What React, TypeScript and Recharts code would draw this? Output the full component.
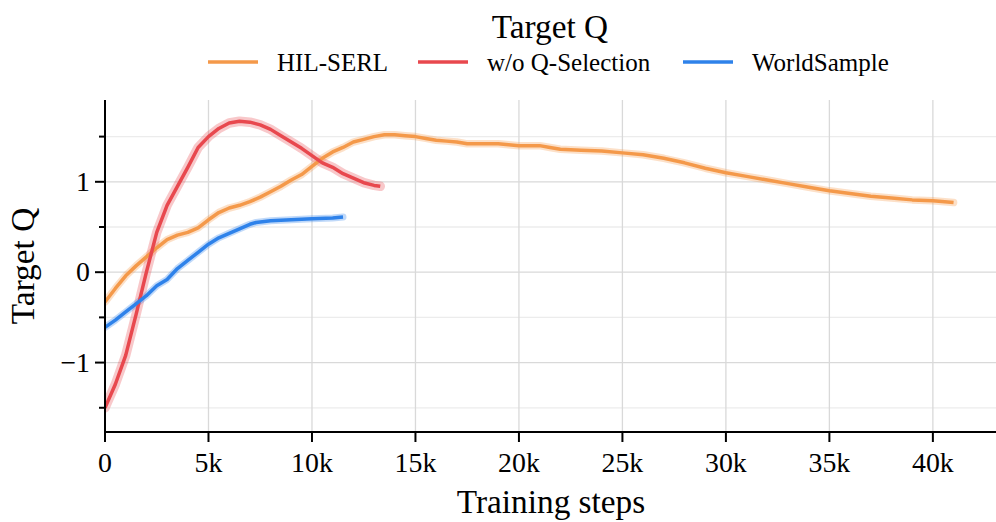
import React from "react";
import {
  ComposedChart,
  Line,
  XAxis,
  YAxis,
  CartesianGrid,
} from "recharts";

// ---- data (steps in thousands, Target Q values) ----
const hilSteps = [0, 0.5, 1, 1.5, 2, 2.5, 3, 3.5, 4, 4.5, 5, 5.5, 6, 6.5, 7, 7.5, 8, 8.5, 9, 9.5, 10, 10.5, 11, 11.5, 12, 12.5, 13, 13.5, 14, 14.5, 15, 15.5, 16, 16.5, 17, 17.5, 18, 19, 19.5, 20, 21, 21.5, 22, 23, 24, 25, 26, 27, 28, 29, 30, 31, 32, 33, 34, 35, 36, 37, 38, 39, 40, 41];
const hilValues = [-0.33, -0.18, -0.04, 0.07, 0.17, 0.27, 0.36, 0.41, 0.44, 0.49, 0.58, 0.66, 0.71, 0.74, 0.78, 0.83, 0.89, 0.95, 1.02, 1.08, 1.17, 1.26, 1.33, 1.38, 1.44, 1.47, 1.5, 1.52, 1.52, 1.51, 1.5, 1.48, 1.46, 1.45, 1.44, 1.42, 1.42, 1.42, 1.41, 1.4, 1.4, 1.38, 1.36, 1.35, 1.34, 1.32, 1.3, 1.26, 1.21, 1.15, 1.1, 1.06, 1.02, 0.98, 0.94, 0.9, 0.87, 0.84, 0.82, 0.8, 0.79, 0.77];

const noQSteps = [0, 0.5, 1, 1.5, 2, 2.5, 3, 3.5, 4, 4.5, 5, 5.5, 6, 6.5, 7, 7.5, 8, 8.5, 9, 9.5, 10, 10.5, 11, 11.5, 12, 12.5, 13, 13.3];
const noQValues = [-1.5, -1.24, -0.92, -0.47, 0.0, 0.44, 0.74, 0.95, 1.16, 1.38, 1.5, 1.59, 1.65, 1.67, 1.66, 1.63, 1.58, 1.51, 1.44, 1.37, 1.29, 1.21, 1.16, 1.09, 1.04, 0.99, 0.96, 0.95];

const wsSteps = [0, 0.5, 1, 1.5, 2, 2.5, 3, 3.5, 4, 4.5, 5, 5.5, 6, 6.5, 7, 7.3, 8, 9, 10, 11, 11.5];
const wsValues = [-0.61, -0.53, -0.44, -0.35, -0.26, -0.15, -0.08, 0.04, 0.13, 0.22, 0.31, 0.38, 0.43, 0.48, 0.53, 0.55, 0.57, 0.58, 0.59, 0.6, 0.61];

const xTicks = [0, 5000, 10000, 15000, 20000, 25000, 30000, 35000, 40000];
const xTickLabels = ["0", "5k", "10k", "15k", "20k", "25k", "30k", "35k", "40k"];
const yTicks = [-1.5, -1, -0.5, 0, 0.5, 1, 1.5];
const yMajor = [-1, 0, 1];
const yMinor = [-1.5, -0.5, 0.5, 1.5];
const yTickLabels: Record<string, string> = { "-1": "\u22121", "0": "0", "1": "1" };

const seriesNames = ["HIL-SERL", "w/o Q-Selection", "WorldSample"];
const colors = ["#F4994A", "#E8484E", "#2E82EA"];
const haloWidths = [7.5, 9.5, 7];

const build = (steps: number[], values: number[]) =>
  steps.map((s, i) => ({ x: s * 1000, y: values[i] }));

const allData = [build(hilSteps, hilValues), build(noQSteps, noQValues), build(wsSteps, wsValues)];

const FONT = '"Liberation Serif", "Times New Roman", serif';

const YTick = (props: any) => {
  const { x, y, payload } = props;
  const v = payload.value;
  const major = yMajor.includes(v);
  const len = major ? 10 : 6;
  return (
    <g>
      <line x1={x - len} x2={x} y1={y} y2={y} stroke="#000" strokeWidth={2} />
      {major && (
        <text x={x - 15} y={y} dy={9.3} textAnchor="end" fontFamily={FONT} fontSize={27.8} fill="#000">
          {yTickLabels[String(v)]}
        </text>
      )}
    </g>
  );
};

const XTick = (props: any) => {
  const { x, y, payload } = props;
  const idx = xTicks.indexOf(payload.value);
  return (
    <text x={x} y={y} dy={30} textAnchor="middle" fontFamily={FONT} fontSize={27.8} fill="#000">
      {xTickLabels[idx]}
    </text>
  );
};

export default function App() {
  const legendX = [208, 418, 683];
  return (
    <div style={{ position: "absolute", left: 0, top: 0, width: 996, height: 522, background: "#fff" }}>
      <ComposedChart
        width={996}
        height={522}
        margin={{ top: 100, right: 0, bottom: 0, left: 0 }}
      >
        <CartesianGrid
          horizontalValues={yMinor}
          vertical={false}
          stroke="#ececec"
          strokeWidth={1.3}
        />
        <CartesianGrid
          horizontalValues={yMajor}
          verticalValues={xTicks}
          stroke="#d9d9d9"
          strokeWidth={1.3}
        />
        <XAxis
          type="number"
          dataKey="x"
          domain={[0, 43050]}
          ticks={xTicks}
          height={90}
          tickSize={10}
          tickMargin={0}
          tick={<XTick />}
          axisLine={{ stroke: "#000", strokeWidth: 2 }}
          tickLine={{ stroke: "#000", strokeWidth: 2 }}
          allowDataOverflow
        />
        <YAxis
          type="number"
          domain={[-1.768, 1.905]}
          ticks={yTicks}
          width={105}
          tickSize={0}
          tickMargin={0}
          tickLine={false}
          tick={<YTick />}
          axisLine={{ stroke: "#000", strokeWidth: 2 }}
          allowDataOverflow
        />
        {allData.map((d, i) => (
          <Line
            key={"halo" + i}
            data={d}
            dataKey="y"
            type="linear"
            stroke={colors[i]}
            strokeOpacity={0.3}
            strokeWidth={haloWidths[i]}
            strokeLinejoin="round"
            strokeLinecap="round"
            dot={false}
            activeDot={false}
            legendType="none"
            isAnimationActive={false}
          />
        ))}
        {allData.map((d, i) => (
          <Line
            key={"line" + i}
            data={d}
            dataKey="y"
            name={seriesNames[i]}
            type="linear"
            stroke={colors[i]}
            strokeWidth={3.5}
            strokeLinejoin="round"
            dot={false}
            activeDot={false}
            isAnimationActive={false}
          />
        ))}
      </ComposedChart>
      <svg
        width={996}
        height={522}
        style={{ position: "absolute", left: 0, top: 0, pointerEvents: "none" }}
      >
        <text x={550} y={38} textAnchor="middle" fontFamily={FONT} fontSize={33.3} fill="#000">
          Target Q
        </text>
        {seriesNames.map((name, i) => (
          <g key={name}>
            <line x1={legendX[i]} x2={legendX[i] + 50} y1={62} y2={62} stroke={colors[i]} strokeWidth={3.5} />
            <text x={legendX[i] + 69} y={71} fontFamily={FONT} fontSize={25} fill="#000">
              {name}
            </text>
          </g>
        ))}
        <text x={551} y={513} textAnchor="middle" fontFamily={FONT} fontSize={33.3} fill="#000">
          Training steps
        </text>
        <text
          x={34}
          y={266}
          textAnchor="middle"
          transform="rotate(-90, 34, 266)"
          fontFamily={FONT}
          fontSize={33.3}
          fill="#000"
        >
          Target Q
        </text>
      </svg>
    </div>
  );
}
